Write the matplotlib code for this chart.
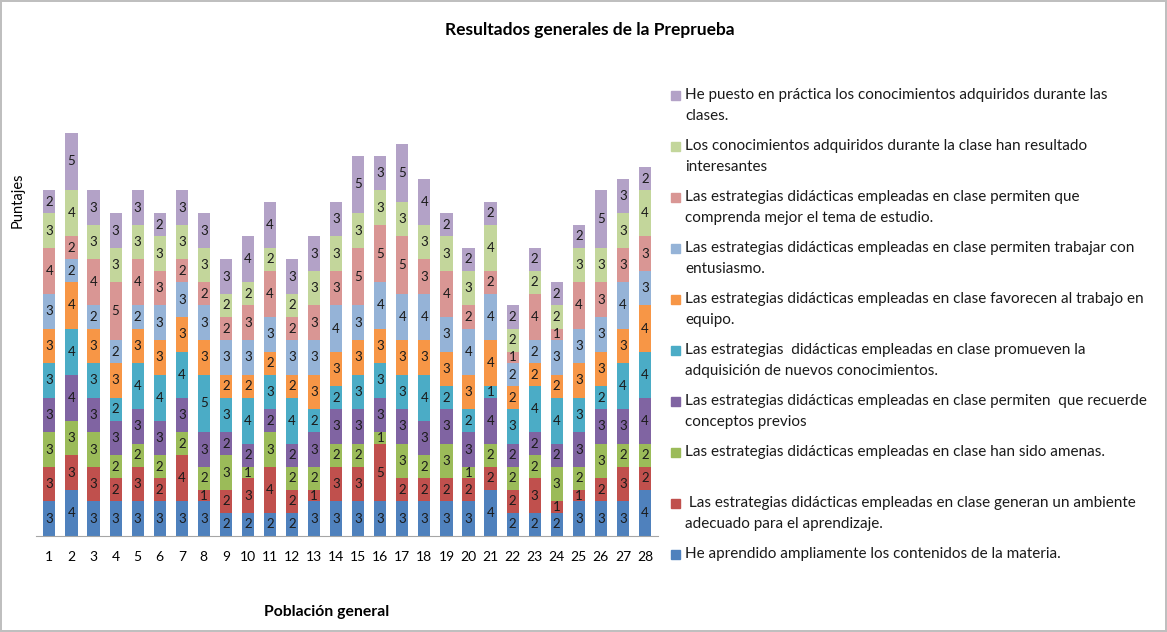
import numpy as np
import matplotlib.pyplot as plt
from matplotlib.patches import Rectangle

plt.rcParams['font.family'] = ['Lato', 'DejaVu Sans']

# participantes 1..28
participantes = [str(i) for i in range(1, 29)]

# valores por pregunta (de abajo hacia arriba en la pila)
aprendido = [3, 4, 3, 3, 3, 3, 3, 3, 2, 2, 2, 2, 3, 3, 3, 3, 3, 3, 3, 3, 4, 2, 2, 2, 3, 3, 3, 4]
ambiente = [3, 3, 3, 2, 3, 2, 4, 1, 2, 3, 4, 2, 1, 3, 3, 5, 2, 2, 2, 2, 2, 2, 3, 1, 1, 2, 3, 2]
amenas = [3, 3, 3, 2, 2, 2, 2, 2, 3, 1, 3, 2, 2, 2, 2, 1, 3, 2, 3, 1, 2, 2, 2, 3, 2, 3, 2, 2]
recuerde = [3, 4, 3, 3, 3, 3, 3, 3, 2, 2, 2, 2, 3, 3, 3, 3, 3, 3, 3, 3, 4, 2, 2, 2, 3, 3, 3, 4]
promueven = [3, 4, 3, 2, 4, 4, 4, 5, 3, 4, 3, 4, 2, 2, 3, 3, 3, 4, 2, 2, 1, 3, 4, 4, 3, 2, 4, 4]
equipo = [3, 4, 3, 3, 3, 3, 3, 3, 2, 2, 2, 2, 3, 3, 3, 3, 3, 3, 3, 3, 4, 2, 2, 2, 3, 3, 3, 4]
entusiasmo = [3, 2, 2, 2, 2, 3, 3, 3, 3, 3, 3, 3, 3, 4, 3, 4, 4, 4, 3, 4, 4, 2, 2, 3, 3, 3, 4, 3]
comprenda = [4, 2, 4, 5, 4, 3, 2, 2, 2, 3, 4, 2, 3, 3, 5, 5, 5, 3, 4, 2, 2, 1, 4, 1, 4, 3, 3, 3]
interesantes = [3, 4, 3, 3, 3, 3, 3, 3, 2, 2, 2, 2, 3, 3, 3, 3, 3, 3, 3, 3, 4, 2, 2, 2, 3, 3, 3, 4]
practica = [2, 5, 3, 3, 3, 2, 3, 3, 3, 4, 4, 3, 3, 3, 5, 3, 5, 4, 2, 2, 2, 2, 2, 2, 2, 5, 3, 2]

series = [aprendido, ambiente, amenas, recuerde, promueven, equipo,
          entusiasmo, comprenda, interesantes, practica]

etiquetas = [
    "He aprendido ampliamente los contenidos de la materia.",
    " Las estrategias didácticas empleadas en clase generan un ambiente\nadecuado para el aprendizaje.",
    "Las estrategias didácticas empleadas en clase han sido amenas.",
    "Las estrategias didácticas empleadas en clase permiten  que recuerde\nconceptos previos",
    "Las estrategias  didácticas empleadas en clase promueven la\nadquisición de nuevos conocimientos.",
    "Las estrategias didácticas empleadas en clase favorecen al trabajo en\nequipo.",
    "Las estrategias didácticas empleadas en clase permiten trabajar con\nentusiasmo.",
    "Las estrategias didácticas empleadas en clase permiten que\ncomprenda mejor el tema de estudio.",
    "Los conocimientos adquiridos durante la clase han resultado\ninteresantes",
    "He puesto en práctica los conocimientos adquiridos durante las\nclases.",
]

colores = ['#4F81BD', '#C0504D', '#9BBB59', '#8064A2', '#4BACC6',
           '#F79646', '#95B3D7', '#D99694', '#C3D69B', '#B3A2C7']

W, H = 1167, 632
fig = plt.figure(figsize=(W / 100, H / 100), dpi=100)
fig.patch.set_edgecolor('#BFBFBF')
fig.patch.set_linewidth(1.5)
ax = fig.add_axes([0.031, 0.152, 0.533, 0.753])

x = np.arange(1, 29)
base = np.zeros(28)
for vals, col, lab in zip(series, colores, etiquetas):
    vals = np.array(vals)
    bars = ax.bar(x, vals, bottom=base, width=0.55, color=col, label=lab)
    ax.bar_label(bars, labels=[str(v) for v in vals], label_type='center',
                 fontsize=9.5, color='#1a1a1a')
    base += vals

ax.set_xlim(0.4, 28.6)
ax.set_ylim(0, 41.3)
ax.set_yticks([])
ax.set_xticks(x)
ax.set_xticklabels(participantes, fontsize=10)
ax.tick_params(axis='x', length=0, pad=11)
for s in ['top', 'right', 'left']:
    ax.spines[s].set_visible(False)
ax.spines['bottom'].set_color('#A6A6A6')

fig.text(590 / W, 1 - 30 / H, "Resultados generales de la Preprueba", ha='center', va='center',
         fontsize=12.5, fontweight='bold')
fig.text(327 / W, 1 - 612 / H, "Población general", ha='center', va='center',
         fontsize=11.3, fontweight='bold')
fig.text(18 / W, 1 - 200 / H, "Puntajes", ha='center', va='center', rotation=90, fontsize=10.5)

# leyenda (orden inverso, de arriba hacia abajo)
for i, (lab, col) in enumerate(zip(etiquetas[::-1], colores[::-1])):
    y0 = 95 + 51 * i
    fig.patches.append(Rectangle((671 / W, 1 - (y0 + 4.5) / H), 9 / W, 9 / H,
                                 transform=fig.transFigure, color=col))
    for k, linea in enumerate(lab.split('\n')):
        fig.text(685 / W, 1 - (y0 + 21 * k) / H, linea, ha='left', va='center',
                 fontsize=11, color='#1a1a1a')

fig.savefig('out.png', dpi=100)
